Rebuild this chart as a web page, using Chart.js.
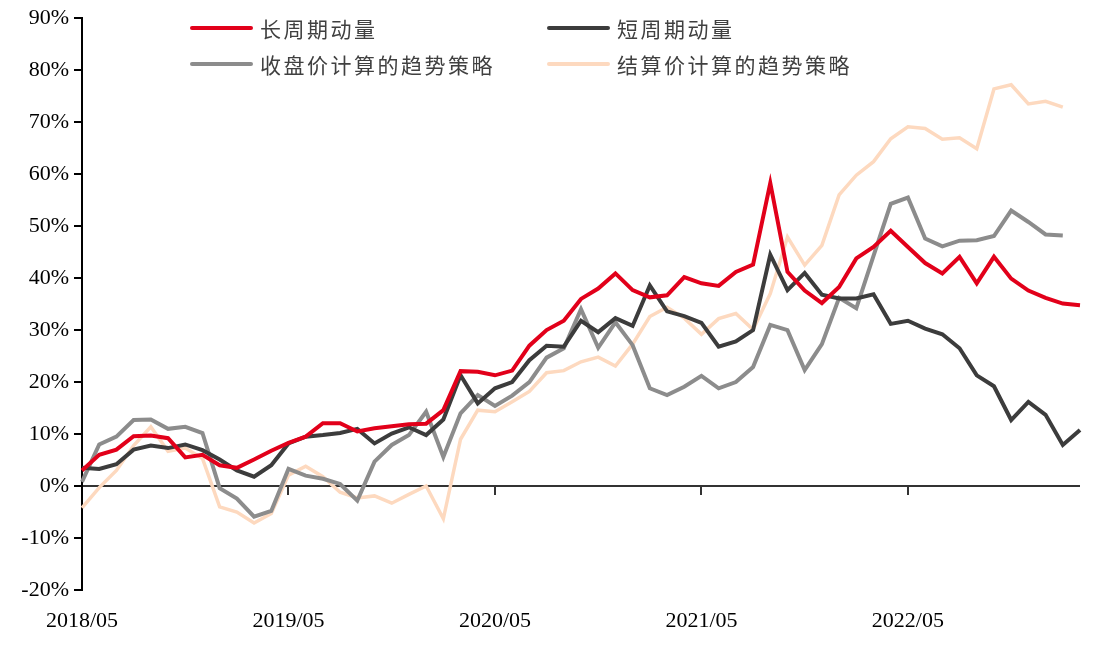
<!DOCTYPE html>
<html>
<head>
<meta charset="utf-8">
<script src="https://cdn.jsdelivr.net/npm/chart.js@4/dist/chart.umd.min.js"></script>
<style>
	body { margin: 0; background: #fff; }
	#wrap { position: relative; width: 1095px; height: 645px; }
	#legend { position: absolute; left: 0; top: 0; font-family: "Noto Sans CJK SC", sans-serif; font-size: 21px; color: #404040; letter-spacing: 2.5px; }
	.item { position: absolute; height: 30px; line-height: 30px; white-space: nowrap; }
	.item span.line { position: absolute; left: 0; top: 13px; width: 63px; height: 4px; border-radius: 2px; }
	.item span.text { position: absolute; left: 70px; top: 0; }
</style>
</head>
<body>
<div id="wrap">
	<canvas id="myChart" width="1095" height="645"></canvas>
	<div id="legend"></div>
</div>
<script>
const labels = [
	'2018/05','2018/06','2018/07','2018/08','2018/09','2018/10','2018/11','2018/12',
	'2019/01','2019/02','2019/03','2019/04','2019/05','2019/06','2019/07','2019/08',
	'2019/09','2019/10','2019/11','2019/12','2020/01','2020/02','2020/03','2020/04',
	'2020/05','2020/06','2020/07','2020/08','2020/09','2020/10','2020/11','2020/12',
	'2021/01','2021/02','2021/03','2021/04','2021/05','2021/06','2021/07','2021/08',
	'2021/09','2021/10','2021/11','2021/12','2022/01','2022/02','2022/03','2022/04',
	'2022/05','2022/06','2022/07','2022/08','2022/09','2022/10','2022/11','2022/12',
	'2023/01','2023/02','2023/03'
];
const tickLabels = ['2018/05', '2019/05', '2020/05', '2021/05', '2022/05'];

// 长周期动量
const longMomentum = [
	3.0, 6.0, 7.0, 9.6, 9.7, 9.2, 5.5, 6.0, 4.0, 3.5, 5.1, 6.8,
	8.3, 9.5, 12.1, 12.1, 10.5, 11.1, 11.5, 11.9, 12.0, 14.6, 22.1, 22.0,
	21.3, 22.2, 27.0, 30.0, 31.8, 36.0, 38.0, 40.9, 37.7, 36.3, 36.7, 40.2,
	39.0, 38.5, 41.2, 42.6, 58.3, 41.2, 37.6, 35.2, 38.3, 43.8, 46.0, 49.1,
	46.0, 42.9, 40.9, 44.1, 39.0, 44.1, 39.9, 37.6, 36.2, 35.1, 34.8
];
// 短周期动量
const shortMomentum = [
	3.5, 3.3, 4.2, 7.0, 7.8, 7.3, 8.0, 6.9, 5.1, 3.0, 1.8, 4.0,
	8.2, 9.5, 9.8, 10.2, 11.0, 8.2, 10.1, 11.3, 9.8, 12.8, 21.3, 15.9,
	18.8, 20.0, 24.2, 27.0, 26.8, 31.8, 29.6, 32.3, 30.8, 38.6, 33.6, 32.7,
	31.4, 26.8, 27.8, 30.0, 44.5, 37.7, 41.0, 36.8, 36.1, 36.1, 36.9, 31.2,
	31.8, 30.3, 29.2, 26.5, 21.3, 19.2, 12.7, 16.2, 13.7, 7.9, 10.8
];
// 收盘价计算的趋势策略
const closeTrend = [
	0.8, 8.0, 9.5, 12.7, 12.8, 11.0, 11.4, 10.2, -0.4, -2.4, -5.9, -4.8,
	3.3, 2.0, 1.4, 0.4, -2.8, 4.7, 7.9, 9.8, 14.3, 5.6, 14.0, 17.5,
	15.4, 17.4, 20.0, 24.7, 26.5, 34.0, 26.6, 31.5, 27.1, 18.8, 17.5, 19.1,
	21.2, 18.8, 20.0, 22.9, 31.0, 30.0, 22.3, 27.3, 36.2, 34.2, 44.3, 54.3,
	55.5, 47.6, 46.1, 47.2, 47.3, 48.1, 53.0, 50.8, 48.4, 48.2
];
// 结算价计算的趋势策略
const settleTrend = [
	-4.2, -0.3, 3.0, 7.8, 11.4, 6.7, 7.3, 5.3, -4.0, -5.0, -7.1, -5.3,
	2.1, 3.8, 1.8, -1.2, -2.3, -1.9, -3.3, -1.6, 0.0, -6.3, 9.0, 14.6,
	14.3, 16.2, 18.2, 21.8, 22.2, 23.9, 24.8, 23.1, 27.3, 32.6, 34.4, 32.3,
	29.2, 32.2, 33.2, 30.1, 37.0, 47.9, 42.5, 46.3, 56.0, 59.8, 62.4, 66.8,
	69.1, 68.8, 66.7, 67.0, 64.9, 76.4, 77.2, 73.5, 74.0, 72.9
];

const seriesNames = ['长周期动量', '短周期动量', '收盘价计算的趋势策略', '结算价计算的趋势策略'];
const seriesColors = ['#e2001a', '#3c3c3c', '#8c8c8c', '#fdd9bf'];
const seriesWidths = [4, 4, 4, 3.5];
const seriesData = [longMomentum, shortMomentum, closeTrend, settleTrend];

// legend spots (two rows, two columns) like the original
const legendPos = [[190, 13], [547, 13], [190, 49], [547, 49]];

const legend = document.getElementById('legend');
seriesNames.forEach((name, i) => {
	const item = document.createElement('div');
	item.className = 'item';
	item.style.left = legendPos[i][0] + 'px';
	item.style.top = legendPos[i][1] + 'px';
	item.innerHTML = `<span class="line" style="background:${seriesColors[i]}"></span><span class="text">${name}</span>`;
	legend.appendChild(item);
});

const zeroTicks = {
	id: 'zeroTicks',
	afterDatasetsDraw(chart) {
		const x = chart.scales.x;
		const y0 = chart.scales.y.getPixelForValue(0);
		const c = chart.ctx;
		c.save();
		c.strokeStyle = '#333';
		c.lineWidth = 2;
		tickLabels.forEach(t => {
			const idx = labels.indexOf(t);
			if (idx <= 0) return;
			const px = Math.round(x.getPixelForValue(idx));
			c.beginPath();
			c.moveTo(px, y0);
			c.lineTo(px, y0 + 9);
			c.stroke();
		});
		c.restore();
	}
};

const serif = { family: '"Liberation Serif", "Times New Roman", serif', size: 22 };

const ctx = document.getElementById('myChart');
const myChart = new Chart(ctx, {
	type: 'line',
	data: {
		labels,
		datasets: seriesData.map((d, i) => ({
			label: seriesNames[i],
			data: d,
			borderColor: seriesColors[i],
			backgroundColor: seriesColors[i],
			borderWidth: seriesWidths[i],
			pointRadius: 0,
			tension: 0,
			borderJoinStyle: 'miter',
			order: i
		}))
	},
	options: {
		responsive: false,
		animation: false,
		devicePixelRatio: 1,
		layout: { padding: { top: 18, right: 15, left: 0, bottom: 0 } },
		plugins: {
			legend: { display: false },
			tooltip: { enabled: false }
		},
		scales: {
			x: {
				offset: false,
				grid: { display: false, drawTicks: false },
				border: { display: false },
				ticks: {
					autoSkip: false,
					maxRotation: 0,
					padding: 18,
					color: '#000',
					font: serif,
					callback: function(v, i) {
						const l = labels[i];
						return tickLabels.includes(l) ? l : '';
					}
				},
				afterFit: s => { s.height = 55; s.paddingRight = 0; }
			},
			y: {
				min: -20,
				max: 90,
				ticks: {
					stepSize: 10,
					padding: 5,
					color: '#000',
					font: serif,
					callback: v => v + '%'
				},
				grid: {
					color: c => c.tick && c.tick.value === 0 ? '#333' : 'rgba(0,0,0,0)',
					tickColor: '#000',
					tickLength: 8,
					lineWidth: 2
				},
				border: { color: '#000', width: 2 },
				afterFit: s => { s.width = 82; }
			}
		}
	},
	plugins: [zeroTicks]
});
</script>
</body>
</html>
